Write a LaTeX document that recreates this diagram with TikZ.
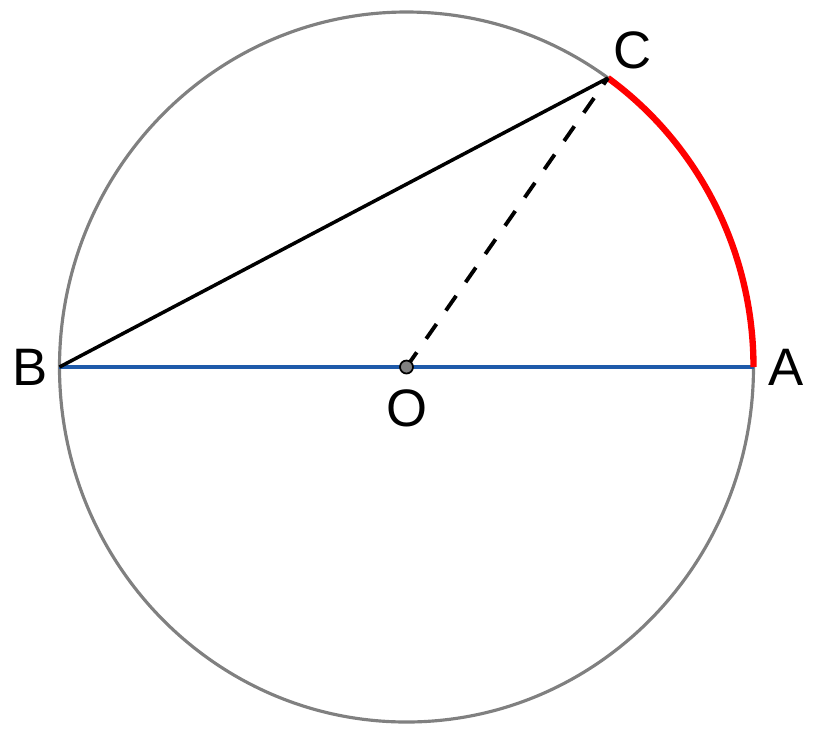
\documentclass[tikz,border=0pt]{standalone}
\usepackage{fontspec}
\setmainfont{Liberation Sans}
\usetikzlibrary{calc}
\definecolor{cercle}{RGB}{128,128,128}
\definecolor{diametre}{RGB}{30,90,170}

\begin{document}
\begin{tikzpicture}[label/.style={font=\fontsize{15}{18}\selectfont}]
				\useasboundingbox (-4.065,-3.68) rectangle (4.105,3.67);
				% Points
				\coordinate (O) at (0,0);
				\coordinate (A) at (3.47,0);
				\coordinate (B) at (-3.47,0);
				\coordinate (C) at (2.015,2.890);
				% Cercle et segments
				\draw [line width=0.9pt,cercle] (O) ellipse [x radius=3.47,y radius=3.55];
				\draw [line width=0.95pt,diametre] (B) -- (A);
				\draw [line width=1.8pt,red] (A) arc [start angle=0,end angle=54.5,x radius=3.47,y radius=3.55];
				\draw [line width=1pt] (B) -- (C);
				\draw [line width=1.1pt,dash pattern=on 5.1pt off 4.7pt] (O) -- (C);
				\draw [fill=cercle,line width=0.5pt] (O) circle (0.065);
				% Etiquettes
				\node [label] (lA) at (3.795,0) {A};
				\node [label] (lB) at (-3.765,0) {B};
				\node [label] (lC) at (2.265,3.17) {C};
				\node [label] (lO) at (0.005,-0.41) {O};
				\end{tikzpicture}
\end{document}
